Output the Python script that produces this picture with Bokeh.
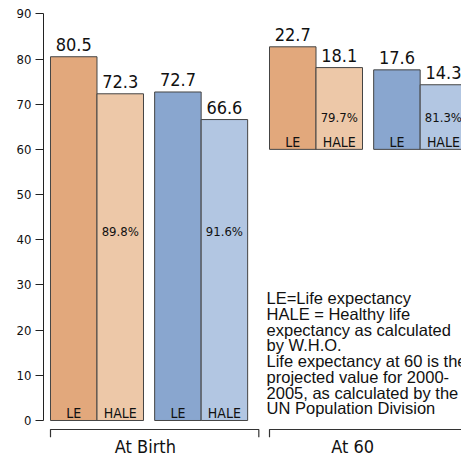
from bokeh.plotting import figure
from bokeh.models import ColumnDataSource, Range1d, FixedTicker
from bokeh.core.properties import value
from bokeh.embed import file_html
from bokeh.resources import INLINE

# ---------------- data ----------------
groups = ["At Birth", "At 60"]
group_base = [0, 60]                 # At 60 bars start at age 60
series = ["LE", "HALE"]
le_values = [[80.5, 72.7], [22.7, 17.6]]      # [group][orange, blue]
hale_values = [[72.3, 66.6], [18.1, 14.3]]
hale_share = [["89.8%", "91.6%"], ["79.7%", "81.3%"]]
y_ticks = [0, 10, 20, 30, 40, 50, 60, 70, 80, 90]
note_lines = [
    "LE=Life expectancy",
    "HALE = Healthy life",
    "expectancy as calculated",
    "by W.H.O.",
    "Life expectancy at 60 is the",
    "projected value for 2000-",
    "2005, as calculated by the",
    "UN Population Division",
]

# ---------------- layout / style ----------------
GROUP_STEP = 4.71
SEX_STEP = 2.24
LE_COLORS = ["#E2A87C", "#89A6CF"]
HALE_COLORS = ["#EDC8A8", "#B2C6E2"]
SHARE_Y = [41.8, 67.0]
GROUP_LABEL_X = [2.04, 6.50]
COND = "DejaVu Sans Condensed"

xs, tops, bottoms, colors, vals, names = [], [], [], [], [], []
share_x, share_y, share_t = [], [], []
for g in range(len(groups)):
    for s in range(2):
        left = g * GROUP_STEP + s * SEX_STEP
        for k, (vals_src, cols) in enumerate([(le_values, LE_COLORS), (hale_values, HALE_COLORS)]):
            v = vals_src[g][s]
            xs.append(left + k + 0.5)
            bottoms.append(group_base[g])
            tops.append(group_base[g] + v)
            colors.append(cols[s])
            vals.append(f"{v:.1f}")
            names.append(series[k])
        share_x.append(left + 1.5)
        share_y.append(SHARE_Y[g])
        share_t.append(hale_share[g][s])

src = ColumnDataSource(dict(x=xs, top=tops, bottom=bottoms, color=colors, val=vals, name=names))
share_src = ColumnDataSource(dict(x=share_x, y=share_y, t=share_t))

p = figure(width=461, height=456, output_backend="svg", toolbar_location=None,
           x_range=Range1d(-0.1505, 8.839), y_range=Range1d(-7.97, 91.84),
           x_axis_location=None, min_border_left=43, min_border_right=0,
           min_border_top=5, min_border_bottom=0)
p.outline_line_color = None
p.grid.visible = False
p.background_fill_color = "white"

ax = p.yaxis[0]
ax.bounds = (0, 90)
ax.ticker = FixedTicker(ticks=y_ticks)
ax.minor_tick_line_color = None
ax.major_tick_out = 8
ax.major_tick_in = 0
ax.axis_line_color = "#222222"
ax.major_tick_line_color = "#222222"
ax.major_label_text_font = COND
ax.major_label_text_font_size = "13px"
ax.major_label_text_color = "#111111"
ax.major_label_standoff = 4

p.vbar(x="x", top="top", bottom="bottom", width=1.0, fill_color="color",
       line_color="#444444", line_width=1, source=src)

p.text(x="x", y="top", text="val", source=src, text_align="center",
       text_baseline="alphabetic", y_offset=-12, text_font=value(COND),
       text_font_size="18px", text_color="#111111")
p.text(x="x", y="bottom", text="name", source=src, text_align="center",
       text_baseline="alphabetic", y_offset=-7.5, text_font=value(COND),
       text_font_size="14px", text_color="#111111")
p.text(x="x", y="y", text="t", source=share_src, text_align="center",
       text_baseline="middle", text_font=value(COND),
       text_font_size="13px", text_color="#111111")

# group brackets and labels
br_y, tk_y = -2.0, -3.7
br_ends = [(0, 2 * SEX_STEP), (GROUP_STEP, 9.5)]
for (a, b), lx, name in zip(br_ends, GROUP_LABEL_X, groups):
    p.line([a, a, b, b], [tk_y, br_y, br_y, tk_y], line_color="#333333", line_width=1.2)
    p.text(x=[lx], y=[-5.7], text=[name], text_align="center", text_baseline="alphabetic",
           text_font=value(COND), text_font_size="18px", text_color="#111111")

# explanatory note, one text per line
NOTE_TOP = 29.0
NOTE_STEP = 3.47
p.text(x=[4.646] * len(note_lines),
       y=[NOTE_TOP - i * NOTE_STEP for i in range(len(note_lines))],
       text=note_lines, text_align="left", text_baseline="top",
       text_font=value("Liberation Sans"), text_font_size="16.5px", text_color="#111111")

open("out.html", "w").write(file_html(p, INLINE))
